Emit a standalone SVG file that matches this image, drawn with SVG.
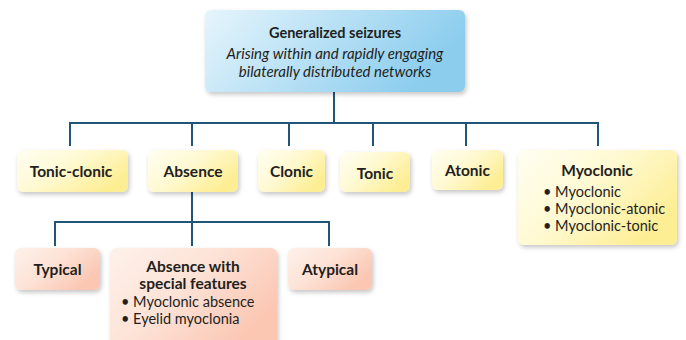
<svg xmlns="http://www.w3.org/2000/svg" width="686" height="340" viewBox="0 0 686 340">
<defs>
<linearGradient id="gBlue" x1="0" y1="0" x2="1" y2="0.3">
<stop offset="0" stop-color="#e6f5fc"/>
<stop offset="1" stop-color="#8ccdee"/>
</linearGradient>
<linearGradient id="gYel" x1="0" y1="0" x2="1" y2="0.6">
<stop offset="0" stop-color="#fffef2"/>
<stop offset="0.5" stop-color="#fff9d2"/>
<stop offset="1" stop-color="#fdee94"/>
</linearGradient>
<linearGradient id="gSal" x1="0" y1="0" x2="1" y2="0.6">
<stop offset="0" stop-color="#fef1ea"/>
<stop offset="0.5" stop-color="#fde2d6"/>
<stop offset="1" stop-color="#fbc6b2"/>
</linearGradient>
<filter id="sh" x="-10%" y="-10%" width="125%" height="135%">
<feDropShadow dx="1.5" dy="2.5" stdDeviation="2" flood-color="#000" flood-opacity="0.22"/>
</filter>
</defs>
<style>
.blue{fill:url(#gBlue);filter:url(#sh)}
.yel{fill:url(#gYel);filter:url(#sh)}
.sal{fill:url(#gSal);filter:url(#sh)}
text{font-family:Lato,"Open Sans",sans-serif;fill:#231f20}
.t{font-weight:bold;font-size:15.5px;text-anchor:middle}
.h{font-weight:bold;font-size:14.5px;text-anchor:middle}
.it{font-style:italic;font-size:15px;text-anchor:middle}
.b{font-size:14.5px}
.ln{stroke:#1f5577;stroke-width:2;fill:none}
</style>
<rect width="686" height="340" fill="#ffffff"/>
<g id="connectors">
<path class="ln" d="M334 92 V123 M70 123 H598 M70 122 V146 M192 122 V146 M289 122 V146 M373 122 V146 M466 122 V146 M598 122 V146"/>
<path class="ln" d="M192 192 V222 M55 222 H330 M55 221 V246 M192 221 V246 M329 221 V246"/>
</g>
<g id="generalized">
<rect class="blue" x="205" y="10" width="260" height="82" rx="6"/>
<text class="h" x="335" y="38">Generalized seizures</text>
<text class="it" x="335" y="59">Arising within and rapidly engaging</text>
<text class="it" x="335" y="77">bilaterally distributed networks</text>
</g>
<g id="tonic-clonic">
<rect class="yel" x="17" y="150" width="111" height="42" rx="6"/>
<text class="t" x="71" y="177">Tonic-clonic</text>
</g>
<g id="absence">
<rect class="yel" x="148" y="150" width="90" height="42" rx="6"/>
<text class="t" x="193" y="177">Absence</text>
</g>
<g id="clonic">
<rect class="yel" x="258" y="150" width="67" height="42" rx="6"/>
<text class="t" x="291.5" y="177">Clonic</text>
</g>
<g id="tonic">
<rect class="yel" x="340" y="152" width="70" height="40" rx="6"/>
<text class="t" x="375" y="179">Tonic</text>
</g>
<g id="atonic">
<rect class="yel" x="432" y="150" width="71" height="40" rx="6"/>
<text class="t" x="467.5" y="176">Atonic</text>
</g>
<g id="myoclonic">
<rect class="yel" x="518" y="150" width="159" height="95" rx="6"/>
<text class="t" x="597" y="176">Myoclonic</text>
<text class="b" x="543" y="197">• Myoclonic</text>
<text class="b" x="543" y="214">• Myoclonic-atonic</text>
<text class="b" x="543" y="231">• Myoclonic-tonic</text>
</g>
<g id="typical">
<rect class="sal" x="15" y="248" width="85" height="42" rx="6"/>
<text class="t" x="57.5" y="275">Typical</text>
</g>
<g id="special">
<rect class="sal" x="110" y="248" width="167" height="100" rx="6"/>
<text class="t" x="193" y="272">Absence with</text>
<text class="t" x="193" y="289">special features</text>
<text class="b" x="121" y="307">• Myoclonic absence</text>
<text class="b" x="121" y="324">• Eyelid myoclonia</text>
</g>
<g id="atypical">
<rect class="sal" x="288" y="248" width="84" height="42" rx="6"/>
<text class="t" x="330" y="275">Atypical</text>
</g>
</svg>
